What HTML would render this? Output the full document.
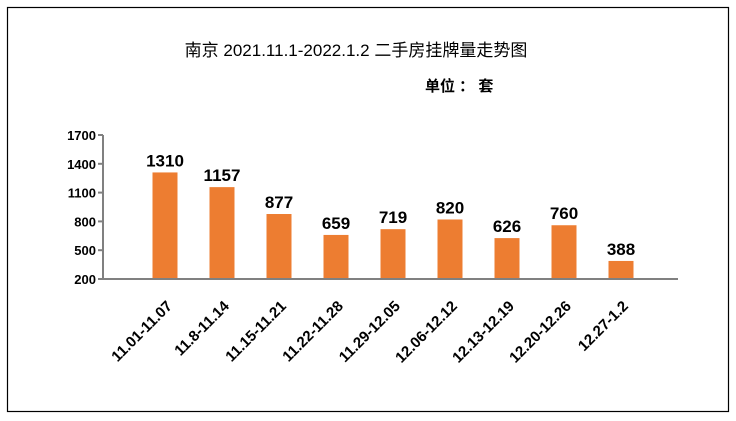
<!DOCTYPE html>
<html><head><meta charset="utf-8"><style>
body{margin:0;background:#fff;}
svg{display:block;font-family:"Liberation Sans","Noto Sans CJK SC",sans-serif;}
</style></head><body>
<svg id="chart" width="736" height="421">
<rect x="7.5" y="7.5" width="721" height="404" fill="#fff" stroke="#000" stroke-width="1.2"/>
<text x="356" y="56" text-anchor="middle" font-size="17" fill="#000">南京 2021.11.1-2022.1.2 二手房挂牌量走势图</text>
<text x="425" y="91" font-size="15" font-weight="bold" fill="#000">单位 ： 套</text>
</svg>
<script>
const categories=["11.01-11.07","11.8-11.14","11.15-11.21","11.22-11.28","11.29-12.05","12.06-12.12","12.13-12.19","12.20-12.26","12.27-1.2"];
const values=[1310,1157,877,659,719,820,626,760,388];
const yTicks=[200,500,800,1100,1400,1700];
const NS="http://www.w3.org/2000/svg";
const svg=document.getElementById('chart');
const yMin=200,yMax=1700,y0=279,y1=135;
function y(v){return y0-(v-yMin)/(yMax-yMin)*(y0-y1);}
function x(i){return 165+i*57;}
function mk(t,a,p){const e=document.createElementNS(NS,t);for(const k in a)e.setAttribute(k,a[k]);(p||svg).appendChild(e);return e;}
let ax=mk('line',{x1:103,y1:y1,x2:103,y2:y0+1,stroke:'#808080','stroke-width':2});


yTicks.forEach(t=>{
  let l=mk('line',{x1:98,y1:y(t),x2:103,y2:y(t),stroke:'#808080','stroke-width':2});
  
  
  let tx=mk('text',{x:96,y:y(t)+5,'text-anchor':'end','font-size':13,'font-weight':'bold',fill:'#000'});
  tx.textContent=t;
  
  
});
values.forEach((v,i)=>{
  let r=mk('rect',{x:x(i)-12.5,y:y(v),width:25,height:y0-y(v),fill:'#ED7D31'});
  
  
  let t=mk('text',{x:x(i),y:y(v)-6,'text-anchor':'middle','font-size':17,'font-weight':'bold',fill:'#000'});
  t.textContent=v;
  
  
  let c=mk('text',{x:0,y:0,'text-anchor':'end','font-size':15,'font-weight':'bold',fill:'#000',transform:`translate(${x(i)+8},${y0+28}) rotate(-45)`});
  c.textContent=categories[i];
  
  
});
let xa=mk('line',{x1:102,y1:y0,x2:678,y2:y0,stroke:'#808080','stroke-width':2});


</script>
</body></html>
